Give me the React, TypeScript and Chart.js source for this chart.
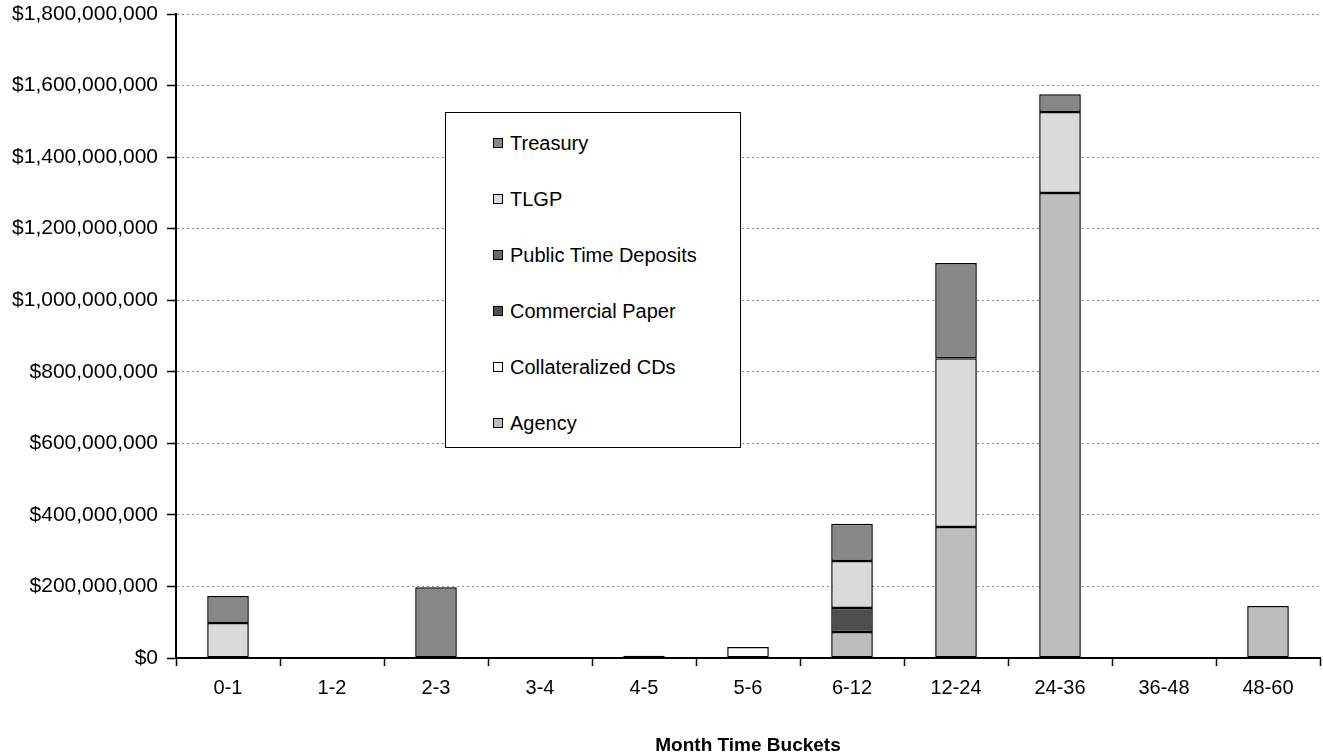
import React, { useEffect, useRef } from "react";
import { Chart, registerables } from "chart.js";

Chart.register(...registerables);

const categories = ["0-1", "1-2", "2-3", "3-4", "4-5", "5-6", "6-12", "12-24", "24-36", "36-48", "48-60"];

// values in dollars (null = no segment)
const agency = [null, null, null, null, null, null, 73e6, 366e6, 1300e6, null, 145e6];
const collateralizedCDs = [null, null, null, null, null, 31e6, null, null, null, null, null];
const commercialPaper = [null, null, null, null, null, null, 67e6, null, null, null, null];
const publicTimeDeposits = [null, 3e6, null, null, 6e6, null, null, null, null, null, null];
const tlgp = [98e6, null, null, null, null, null, 131e6, 472e6, 226e6, null, null];
const treasury = [75e6, null, 198e6, null, null, null, 104e6, 266e6, 50e6, null, null];

const yTicksMax = 1800e6;
const yStep = 200e6;

const seriesNames = ["Agency", "Collateralized CDs", "Commercial Paper", "Public Time Deposits", "TLGP", "Treasury"];
const seriesData = [agency, collateralizedCDs, commercialPaper, publicTimeDeposits, tlgp, treasury];
const seriesColors = ["#bdbdbd", "#ffffff", "#4e4e4e", "#6a6a6a", "#dadada", "#878787"];

const FONT = "Arial, 'Liberation Sans', sans-serif";

export default function App() {
  const ref = useRef<HTMLCanvasElement | null>(null);

  useEffect(() => {
    if (!ref.current) return;
    const chart = new Chart(ref.current, {
      type: "bar",
      data: {
        labels: categories,
        datasets: seriesNames.map((name, i) => ({
          label: name,
          data: seriesData[i] as any,
          backgroundColor: seriesColors[i],
          borderColor: "#000",
          borderWidth: 1.5,
          borderSkipped: false,
          barPercentage: 0.4,
          categoryPercentage: 1,
        })),
      },
      options: {
        animation: false,
        responsive: true,
        maintainAspectRatio: false,
        layout: { padding: { top: 14, right: 3, left: 0, bottom: 0 } },
        plugins: {
          legend: { display: false },
          tooltip: { enabled: false },
        },
        scales: {
          x: {
            stacked: true,
            grid: {
              display: true,
              drawOnChartArea: false,
              drawTicks: true,
              tickLength: 8,
              tickColor: "#000",
              tickWidth: 1.5,
              offset: true,
            },
            border: { display: true, color: "#000", width: 2 },
            ticks: {
              color: "#000",
              font: { family: FONT, size: 20 },
              padding: 10,
              maxRotation: 0,
              autoSkip: false,
            },
            title: {
              display: true,
              text: "Month Time Buckets",
              color: "#000",
              font: { family: FONT, size: 19, weight: "bold" },
              padding: { top: 0, bottom: -2 },
            },
            afterFit: (s: any) => {
              s.height = 97;
            },
          },
          y: {
            stacked: true,
            min: 0,
            max: yTicksMax,
            grid: {
              color: "#8a8a8a",
              lineWidth: 1,
              drawTicks: true,
              tickLength: 9,
              tickColor: "#000",
              tickWidth: 1.5,
            },
            border: { display: true, color: "#000", width: 2, dash: [2, 3] },
            ticks: {
              stepSize: yStep,
              color: "#000",
              font: { family: FONT, size: 21 },
              padding: 9,
              callback: (v: any) => "$" + Number(v).toLocaleString("en-US"),
            },
            afterFit: (s: any) => {
              s.width = 176;
              s.paddingTop = 0;
              s.paddingBottom = 0;
            },
          },
        },
      },
    });
    return () => chart.destroy();
  }, []);

  const legendOrder = seriesNames.map((_, i) => i).reverse();

  return (
    <div style={{ position: "absolute", left: 0, top: 0, width: 1323, height: 755, background: "#fff" }}>
      <canvas ref={ref} />
      <div
        style={{
          position: "absolute",
          left: 445,
          top: 112,
          width: 296,
          height: 336,
          border: "1.5px solid #000",
          background: "#fff",
          boxSizing: "border-box",
          fontFamily: FONT,
          fontSize: 20,
          color: "#000",
        }}
      >
        {legendOrder.map((idx, k) => (
          <div
            key={seriesNames[idx]}
            style={{
              position: "absolute",
              left: 47,
              top: 30 + k * 56 - 12,
              height: 24,
              display: "flex",
              alignItems: "center",
              whiteSpace: "nowrap",
            }}
          >
            <span
              style={{
                display: "inline-block",
                width: 8,
                height: 8,
                border: "1.5px solid #000",
                background: seriesColors[idx],
                marginRight: 7,
              }}
            />
            <span>{seriesNames[idx]}</span>
          </div>
        ))}
      </div>
    </div>
  );
}
